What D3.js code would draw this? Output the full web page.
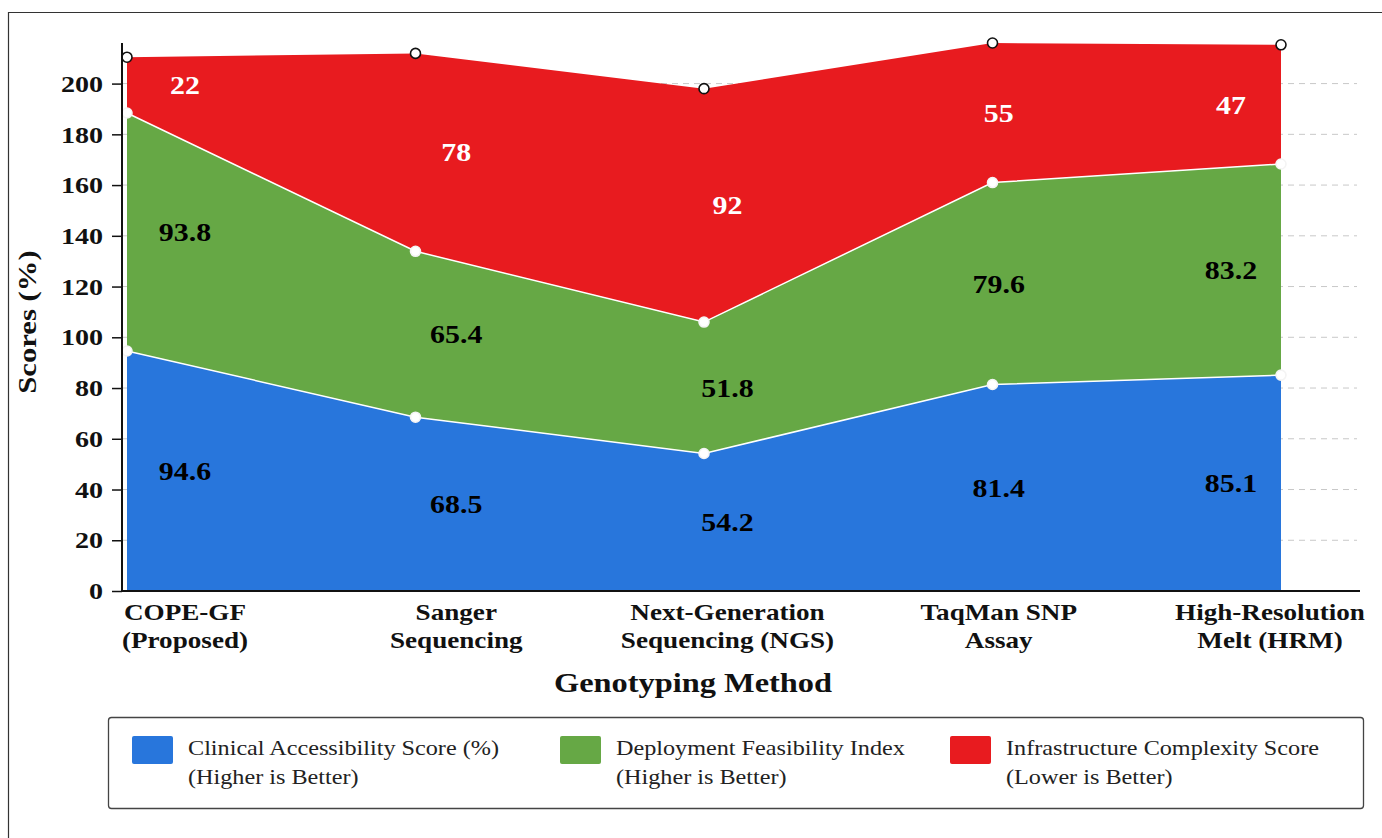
<!DOCTYPE html>
<html>
<head>
<meta charset="utf-8">
<script src="https://cdn.jsdelivr.net/npm/d3@7"></script>
<style>
  html, body { margin: 0; padding: 0; background: #ffffff; }
  svg { display: block; }
</style>
</head>
<body>
<svg id="chart" width="1382" height="838"></svg>
<script>
// Genotyping methods along the x axis (two-line labels)
const categories = [
  "COPE-GF (Proposed)",
  "Sanger Sequencing",
  "Next-Generation Sequencing (NGS)",
  "TaqMan SNP Assay",
  "High-Resolution Melt (HRM)"
];
const categoryLines = [
  ["COPE-GF", "(Proposed)"],
  ["Sanger", "Sequencing"],
  ["Next-Generation", "Sequencing (NGS)"],
  ["TaqMan SNP", "Assay"],
  ["High-Resolution", "Melt (HRM)"]
];

// Series values, stacked bottom to top
const clinicalAccessibility = [94.6, 68.5, 54.2, 81.4, 85.1];
const deploymentFeasibility = [93.8, 65.4, 51.8, 79.6, 83.2];
const infrastructureComplexity = [22, 78, 92, 55, 47];

const seriesKeys = ["clinical", "deployment", "infrastructure"];
const seriesNames = [
  ["Clinical Accessibility Score (%)", "(Higher is Better)"],
  ["Deployment Feasibility Index", "(Higher is Better)"],
  ["Infrastructure Complexity Score", "(Lower is Better)"]
];
const seriesColors = ["#2876dc", "#66a845", "#e81b1f"];
const labelColors = ["#000000", "#000000", "#ffffff"];

const yTicks = [0, 20, 40, 60, 80, 100, 120, 140, 160, 180, 200];

const rows = categories.map((c, i) => ({
  category: c,
  clinical: clinicalAccessibility[i],
  deployment: deploymentFeasibility[i],
  infrastructure: infrastructureComplexity[i]
}));

const svg = d3.select("#chart");
const serif = "'Liberation Serif', 'Times New Roman', serif";

// Widen glyphs horizontally around the text's own anchor point
function placeText(sel, x, y, sx) {
  sel.attr("transform", `translate(${x},${y}) scale(${sx},1)`);
}

// Page frame
svg.append("path")
  .attr("d", "M8.5,838 L8.5,12.5 L1382,12.5")
  .attr("fill", "none")
  .attr("stroke", "#333")
  .attr("stroke-width", 1.2);

const plot = { left: 122, right: 1360, top: 43, bottom: 591 };

const stack = d3.stack().keys(seriesKeys);
const layers = stack(rows);
const maxTotal = d3.max(layers[layers.length - 1], d => d[1]);

const x = d3.scalePoint().domain(categories).range([127, 1281]);
const xLabel = d3.scalePoint().domain(categories).range([185, 1270]);
const y = d3.scaleLinear().domain([0, maxTotal]).range([plot.bottom, plot.top]);

// Dashed horizontal grid
svg.append("g")
  .selectAll("line")
  .data(yTicks.filter(t => t > 0))
  .join("line")
  .attr("x1", plot.left)
  .attr("x2", 1357)
  .attr("y1", d => y(d))
  .attr("y2", d => y(d))
  .attr("stroke", "#c8c8c8")
  .attr("stroke-width", 1)
  .attr("stroke-dasharray", "6,5");

// Stacked areas
const area = d3.area()
  .x((d, i) => x(categories[i]))
  .y0(d => y(d[0]))
  .y1(d => y(d[1]));

svg.append("g")
  .selectAll("path")
  .data(layers)
  .join("path")
  .attr("d", area)
  .attr("fill", (d, i) => seriesColors[i]);

// Thin white boundaries between layers
const topLine = d3.line()
  .x((d, i) => x(categories[i]))
  .y(d => y(d[1]));
svg.append("g")
  .selectAll("path")
  .data(layers.slice(0, 2))
  .join("path")
  .attr("d", topLine)
  .attr("fill", "none")
  .attr("stroke", "#ffffff")
  .attr("stroke-width", 1.5);

// Markers at each layer top
layers.forEach((layer, li) => {
  svg.append("g")
    .selectAll("circle")
    .data(layer)
    .join("circle")
    .attr("cx", (d, i) => x(categories[i]))
    .attr("cy", d => y(d[1]))
    .attr("r", 5)
    .attr("fill", "#ffffff")
    .attr("stroke", li === 2 ? "#111" : "#f4f4f4")
    .attr("stroke-width", 1.6);
});

// Value labels in the middle of each band, kept inside the last edge
const lastX = x(categories[categories.length - 1]);
layers.forEach((layer, li) => {
  svg.append("g")
    .selectAll("text")
    .data(layer)
    .join("text")
    .attr("text-anchor", "middle")
    .attr("dy", "0.35em")
    .attr("font-family", serif)
    .attr("font-weight", "bold")
    .attr("font-size", 26)
    .attr("fill", labelColors[li])
    .each(function(d, i) {
      const cx = Math.min(xLabel(categories[i]), lastX - 50);
      placeText(d3.select(this), cx, y((d[0] + d[1]) / 2), 1.15);
    })
    .text((d, i) => rows[i][seriesKeys[li]]);
});

// Y axis
const yAxis = d3.axisLeft(y).tickValues(yTicks).tickSize(10).tickPadding(6);
const gy = svg.append("g")
  .attr("transform", `translate(${plot.left},0)`)
  .call(yAxis);
gy.select(".domain").attr("stroke", "#111").attr("stroke-width", 2)
  .attr("d", `M0,${plot.top}V${plot.bottom}`);
gy.selectAll(".tick line").attr("stroke", "#111").attr("stroke-width", 1.5);
gy.selectAll(".tick text")
  .attr("x", null)
  .attr("font-family", serif)
  .attr("font-weight", "bold")
  .attr("font-size", 24)
  .attr("fill", "#111")
  .attr("transform", "translate(-19,0) scale(1.17,1)");

// X axis baseline
svg.append("line")
  .attr("x1", plot.left - 1)
  .attr("x2", plot.right)
  .attr("y1", plot.bottom)
  .attr("y2", plot.bottom)
  .attr("stroke", "#111")
  .attr("stroke-width", 2);

// Category labels
svg.append("g")
  .selectAll("text")
  .data(categories)
  .join("text")
  .attr("text-anchor", "middle")
  .attr("font-family", serif)
  .attr("font-weight", "bold")
  .attr("font-size", 23)
  .attr("fill", "#111")
  .each(function(d, i) {
    const t = d3.select(this);
    placeText(t, xLabel(d), 620, 1.18);
    categoryLines[i].forEach((line, k) => {
      t.append("tspan")
        .attr("x", 0)
        .attr("dy", k === 0 ? 0 : 28)
        .text(line);
    });
  });

// Axis titles
const xTitle = svg.append("text")
  .attr("text-anchor", "middle")
  .attr("font-family", serif)
  .attr("font-weight", "bold")
  .attr("font-size", 27)
  .attr("fill", "#111")
  .text("Genotyping Method");
placeText(xTitle, 693, 692, 1.2);

svg.append("text")
  .attr("transform", "translate(36,322) rotate(-90) scale(1.18,1)")
  .attr("text-anchor", "middle")
  .attr("font-family", serif)
  .attr("font-weight", "bold")
  .attr("font-size", 26)
  .attr("fill", "#111")
  .text("Scores (%)");

// Legend
const legend = svg.append("g");
legend.append("rect")
  .attr("x", 108.5).attr("y", 717.5)
  .attr("width", 1255).attr("height", 91)
  .attr("rx", 3)
  .attr("fill", "#ffffff")
  .attr("stroke", "#444")
  .attr("stroke-width", 1.3);

const legendX = [132, 560, 950];
seriesNames.forEach((name, i) => {
  const g = legend.append("g").attr("transform", `translate(${legendX[i]},0)`);
  g.append("rect")
    .attr("x", 0).attr("y", 736)
    .attr("width", 41).attr("height", 28)
    .attr("rx", 2)
    .attr("fill", seriesColors[i]);
  name.forEach((line, k) => {
    const t = g.append("text")
      .attr("font-family", serif)
      .attr("font-size", 22)
      .attr("fill", "#222")
      .text(line);
    placeText(t, 56, 755 + k * 29, 1.1);
  });
});
</script>
</body>
</html>
